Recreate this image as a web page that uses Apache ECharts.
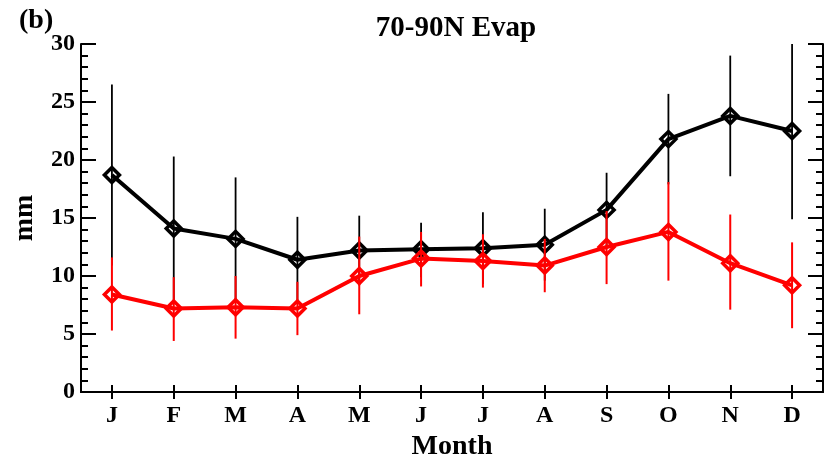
<!DOCTYPE html>
<html>
<head>
<meta charset="utf-8">
<script src="https://cdn.jsdelivr.net/npm/echarts@6/dist/echarts.min.js"></script>
<style>html,body{margin:0;padding:0;background:#fff;}#c{width:837px;height:460px;}</style>
</head>
<body>
<div id="c"></div>
<script>
var months = ['J','F','M','A','M','J','J','A','S','O','N','D'];
var yTicks = [0, 5, 10, 15, 20, 25, 30];
var blackVals = [18.7, 14.1, 13.2, 11.4, 12.2, 12.3, 12.4, 12.7, 15.7, 21.8, 23.8, 22.5];
var blackHigh = [26.5, 20.3, 18.5, 15.1, 15.2, 14.6, 15.5, 15.8, 18.9, 25.7, 29.0, 30.1];
var blackLow  = [10.9, 7.9, 7.9, 7.7, 9.2, 9.9, 9.3, 9.6, 12.5, 17.9, 18.6, 14.9];
var redVals = [8.4, 7.2, 7.3, 7.2, 10.0, 11.5, 11.3, 10.9, 12.5, 13.8, 11.1, 9.2];
var redHigh = [11.6, 9.9, 10.0, 9.5, 13.4, 13.8, 13.6, 13.2, 15.6, 18.1, 15.3, 12.9];
var redLow  = [5.3, 4.4, 4.6, 4.9, 6.7, 9.1, 9.0, 8.6, 9.3, 9.6, 7.1, 5.5];

var FONT = 'Liberation Serif';

function errData(low, high) {
  return low.map(function (l, i) { return [i, l, high[i]]; });
}
function errSeries(name, low, high, color, width, z) {
  return {
    type: 'custom', name: name, z: z, clip: true,
    data: errData(low, high),
    encode: { x: 0, y: [1, 2] },
    renderItem: function (params, api) {
      var p1 = api.coord([api.value(0), api.value(1)]);
      var p2 = api.coord([api.value(0), api.value(2)]);
      return { type: 'line', shape: { x1: p1[0], y1: p1[1], x2: p2[0], y2: p2[1] },
               style: { stroke: color, lineWidth: width } };
    }
  };
}
function lineSeries(name, vals, color, z) {
  return {
    type: 'line', name: name, data: vals, z: z,
    symbol: 'diamond', symbolSize: 15, showSymbol: true,
    lineStyle: { color: color, width: 4 },
    itemStyle: { color: 'rgba(0,0,0,0)', borderColor: color, borderWidth: 3.5 },
    animation: false
  };
}

var chart = echarts.init(document.getElementById('c'));
var axisLineStyle = { color: '#000', width: 2 };
chart.setOption({
  animation: false,
  backgroundColor: '#fff',
  title: {
    text: '70-90N Evap', left: 451, top: 9, textAlign: 'center',
    textStyle: { fontFamily: FONT, fontWeight: 'bold', fontSize: 29, color: '#000' }
  },
  graphic: [{
    type: 'text', x: 19, y: 21,
    style: { text: '(b)', font: 'bold 28px "Liberation Serif"', fill: '#000', textVerticalAlign: 'middle' }
  }],
  grid: { left: 81, right: 14, top: 44, bottom: 68, containLabel: false, outerBoundsMode: 'none' },
  xAxis: [{
    type: 'category', data: months, boundaryGap: true, position: 'bottom',
    axisLine: { lineStyle: axisLineStyle },
    axisTick: { show: true, alignWithLabel: true, inside: true, length: 7, lineStyle: { color: '#000', width: 2 } },
    axisLabel: { fontFamily: FONT, fontWeight: 'bold', fontSize: 24, color: '#000', margin: 12 },
    name: 'Month', nameLocation: 'middle', nameGap: 41,
    nameTextStyle: { fontFamily: FONT, fontWeight: 'bold', fontSize: 28, color: '#000' },
    splitLine: { show: false }
  }, {
    type: 'category', data: months, boundaryGap: true, position: 'top',
    axisLine: { lineStyle: axisLineStyle },
    axisTick: { show: true, alignWithLabel: true, inside: true, length: 7, lineStyle: { color: '#000', width: 2 } },
    axisLabel: { show: false }, splitLine: { show: false }
  }],
  yAxis: [{
    type: 'value', min: 0, max: 30, interval: 5, position: 'left',
    axisLine: { show: true, lineStyle: axisLineStyle },
    axisTick: { show: true, inside: true, length: 15, lineStyle: { color: '#000', width: 2 } },
    minorTick: { show: true, splitNumber: 5, length: 7, lineStyle: { color: '#000', width: 2 } },
    axisLabel: { fontFamily: FONT, fontWeight: 'bold', fontSize: 24, color: '#000', margin: 6,
                 formatter: function (v) { return yTicks.indexOf(v) >= 0 ? String(v) : ''; } },
    splitLine: { show: false },
    name: 'mm', nameLocation: 'middle', nameGap: 42, nameRotate: 90,
    nameTextStyle: { fontFamily: FONT, fontWeight: 'bold', fontSize: 28, color: '#000' }
  }, {
    type: 'value', min: 0, max: 30, interval: 5, position: 'right',
    axisLine: { show: true, lineStyle: axisLineStyle },
    axisTick: { show: true, inside: true, length: 15, lineStyle: { color: '#000', width: 2 } },
    minorTick: { show: true, splitNumber: 5, length: 7, lineStyle: { color: '#000', width: 2 } },
    axisLabel: { show: false }, splitLine: { show: false }
  }],
  series: [
    errSeries('black err', blackLow, blackHigh, '#000', 1.8, 1),
    lineSeries('black', blackVals, '#000', 2),
    errSeries('red err', redLow, redHigh, '#ff0000', 2, 3),
    lineSeries('red', redVals, '#ff0000', 4)
  ]
});
</script>
</body>
</html>
